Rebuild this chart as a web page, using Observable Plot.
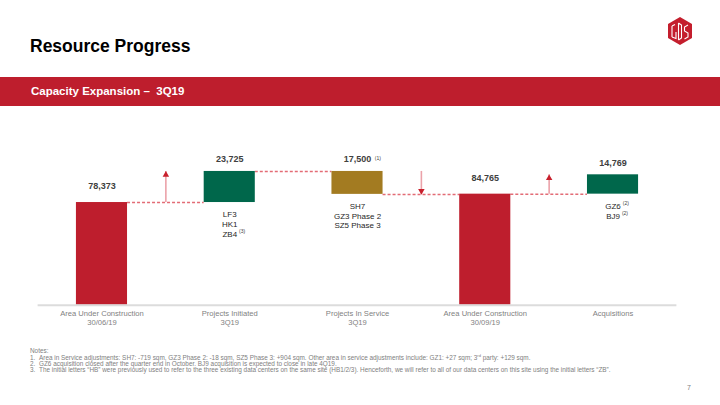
<!DOCTYPE html>
<html><head><meta charset="utf-8">
<script src="https://cdn.jsdelivr.net/npm/d3@7"></script>
<script src="https://cdn.jsdelivr.net/npm/@observablehq/plot@0.6"></script>
<style>
html,body{margin:0;padding:0;background:#fff;}
body{width:720px;height:405px;position:relative;overflow:hidden;font-family:"Liberation Sans",Arial,sans-serif;}
#title{position:absolute;left:30px;top:36px;font-size:17.5px;line-height:20px;font-weight:bold;color:#000;white-space:nowrap;}
#band{position:absolute;left:0;top:77px;width:720px;height:29px;background:#be1e2d;}
#band span{position:absolute;left:31px;top:0;line-height:29px;font-size:11.5px;font-weight:bold;color:#fff;white-space:nowrap;}
#logo{position:absolute;left:666px;top:16px;}
#chart{position:absolute;left:0;top:120px;}
#notes{position:absolute;left:30px;top:348px;font-size:6.4px;line-height:6.1px;color:#808080;white-space:nowrap;}
#notes .hd{margin-bottom:1.2px;}
#notes .ln{display:flex;}
#notes .num{width:9px;flex:none;}
#notes sup{font-size:4px;line-height:0;vertical-align:super;}
#page{position:absolute;left:687px;top:384px;font-size:7px;color:#808080;}
</style></head>
<body>
<div id="title">Resource Progress</div>
<svg id="logo" width="28" height="30" viewBox="0 0 28 30">
  <polygon points="14,1 26,8 26,22 14,29 2,22 2,8" fill="#c41e2d"/>
  <path d="M6 10 V21 M6 10 L9 8.5 M6 21 L10 22.5 V16 M12.5 7 V24 M12.5 7 L15.5 9 V22 L12.5 24 M22 9 L18.5 11 V15 L22 17 V21 L18.5 23" stroke="#fff" stroke-width="1.1" fill="none"/>
</svg>
<div id="band"><span>Capacity Expansion –&nbsp; 3Q19</span></div>
<div id="chart"></div>
<div id="notes">
  <div class="hd">Notes:</div>
  <div class="ln"><span class="num">1.</span><span>Area in Service adjustments: SH7: -719 sqm, GZ3 Phase 2: -18 sqm, SZ5 Phase 3: +904 sqm. Other area in service adjustments include: GZ1: +27 sqm; 3<sup>rd</sup> party: +129 sqm.</span></div>
  <div class="ln"><span class="num">2.</span><span>GZ6 acquisition closed after the quarter end in October. BJ9 acquisition is expected to close in late 4Q19.</span></div>
  <div class="ln"><span class="num">3.</span><span>The initial letters “HB” were previously used to refer to the three existing data centers on the same site (HB1/2/3). Henceforth, we will refer to all of our data centers on this site using the initial letters “ZB”.</span></div>
</div>
<div id="page">7</div>
<script>
// ---- data ----
const categories = ["Area Under Construction\n30/06/19", "Projects Initiated\n3Q19", "Projects In Service\n3Q19", "Area Under Construction\n30/09/19", "Acquisitions"];
const values = [78373, 23725, -17500, 84765, 14769];
const barTypes = ["total", "increase", "decrease", "total", "increase"];
const valueLabels = ["78,373", "23,725", "17,500", "84,765", "14,769"];
const subLabels = ["", "LF3\nHK1\nZB4", "SH7\nGZ3 Phase 2\nSZ5 Phase 3", "", "GZ6\nBJ9"];
const subFootnotes = [{bar: 1, line: 2, mark: "(3)"}, {bar: 4, line: 0, mark: "(2)"}, {bar: 4, line: 1, mark: "(2)"}];
const valueFootnotes = [{bar: 2, mark: "(1)"}];
const arrowSpecs = [{between: [0, 1], from: 0, to: 1}, {between: [2, 3], from: 1, to: 2}, {between: [3, 4], from: 3, to: 4}];
const colors = {total: "#be1e2d", increase: "#00674b", decrease: "#a37b21"};

// ---- derived ----
let run = 0;
const rows = values.map((v, i) => {
  const t = barTypes[i];
  let y1, y2;
  if (t === "total") { y1 = 0; y2 = v; run = v; }
  else { y1 = run; y2 = run + v; run = run + v; }
  return {i, t, y1, y2, top: Math.max(y1, y2), bottom: Math.min(y1, y2), end: run, label: valueLabels[i], sub: subLabels[i]};
});
const connectors = rows.slice(0, -1).map(r => ({x1: r.i + 0.2, x2: r.i + 0.8, y: r.end}));
const arrows = arrowSpecs.map(a => {
  const from = rows[a.from].end, to = rows[a.to].end;
  return {x: (a.between[0] + a.between[1]) / 2, from, to, up: to > from};
});

const FONT = '"Liberation Sans", Arial, sans-serif';
const ctx = document.createElement("canvas").getContext("2d");
function tw(text, size, weight = "normal") { ctx.font = `${weight} ${size}px ${FONT}`; return ctx.measureText(text).width; }

const SUB_SIZE = 8, SUB_LH = 1.2, SUB_DY = 8;

const marks = [
  Plot.ruleY(connectors, {x1: "x1", x2: "x2", y: "y", stroke: "#e36c76", strokeWidth: 1.5, strokeDasharray: "3,2"}),
  Plot.rectY(rows, {x1: d => d.i - 0.2, x2: d => d.i + 0.2, y1: "y1", y2: "y2", fill: d => colors[d.t]}),
  Plot.ruleY([0], {stroke: "#dcdcdc", strokeWidth: 2}),
  Plot.ruleX(arrows, {x: "x", y1: "from", y2: "to", stroke: "#eba2a9", strokeWidth: 1.6}),
  Plot.dot(arrows.filter(a => a.up), {x: "x", y: "to", symbol: "triangle", r: 2.4, fill: "#c8202d", stroke: null, dy: 3.4}),
  Plot.dot(arrows.filter(a => !a.up), {x: "x", y: "to", symbol: "triangle", r: 2.4, fill: "#c8202d", stroke: null, rotate: 180, dy: -3.4}),
  Plot.text(rows.filter(r => r.t === "total"), {x: "i", y: "top", text: "label", dy: -16.5, fontSize: 9, fontWeight: "bold", fill: "#404040"}),
  Plot.text(rows.filter(r => r.t !== "total"), {x: "i", y: "top", text: "label", dy: -12, fontSize: 9, fontWeight: "bold", fill: "#404040"}),
  Plot.text(rows.filter(r => r.sub), {x: "i", y: "bottom", text: "sub", lineAnchor: "top", dy: SUB_DY, fontSize: SUB_SIZE, lineHeight: SUB_LH, fill: "#262626"}),
  ...subFootnotes.map(f => {
    const r = rows[f.bar];
    const line = r.sub.split("\n")[f.line];
    return Plot.text([f], {x: () => r.i, y: () => r.bottom, text: "mark", textAnchor: "start", lineAnchor: "middle",
      dx: tw(line, SUB_SIZE) / 2 + 2, dy: SUB_DY + 0.355 * SUB_SIZE + f.line * SUB_SIZE * SUB_LH - 1.2, fontSize: 5, fill: "#404040"});
  }),
  ...valueFootnotes.map(f => {
    const r = rows[f.bar];
    return Plot.text([f], {x: () => r.i, y: () => r.top, text: "mark", textAnchor: "start", lineAnchor: "middle",
      dx: tw(r.label, 9, "bold") / 2 + 3.5, dy: -13.5, fontSize: 5, fill: "#404040"});
  }),
  Plot.axisX({ticks: d3.range(categories.length), tickFormat: i => categories[i], tickSize: 0, tickPadding: 5,
    fontSize: 7.6, lineHeight: 1.12, color: "#7f7f7f", label: null})
];

const chart = Plot.plot({
  width: 720, height: 220,
  marginLeft: 37.6, marginRight: 43.6, marginTop: 14.4, marginBottom: 35.3,
  x: {domain: [-0.5, categories.length - 0.5]},
  y: {domain: [0, 130000], axis: null},
  style: {fontFamily: FONT, background: "transparent", overflow: "visible"},
  marks
});
document.getElementById("chart").appendChild(chart);
</script>
</body></html>
